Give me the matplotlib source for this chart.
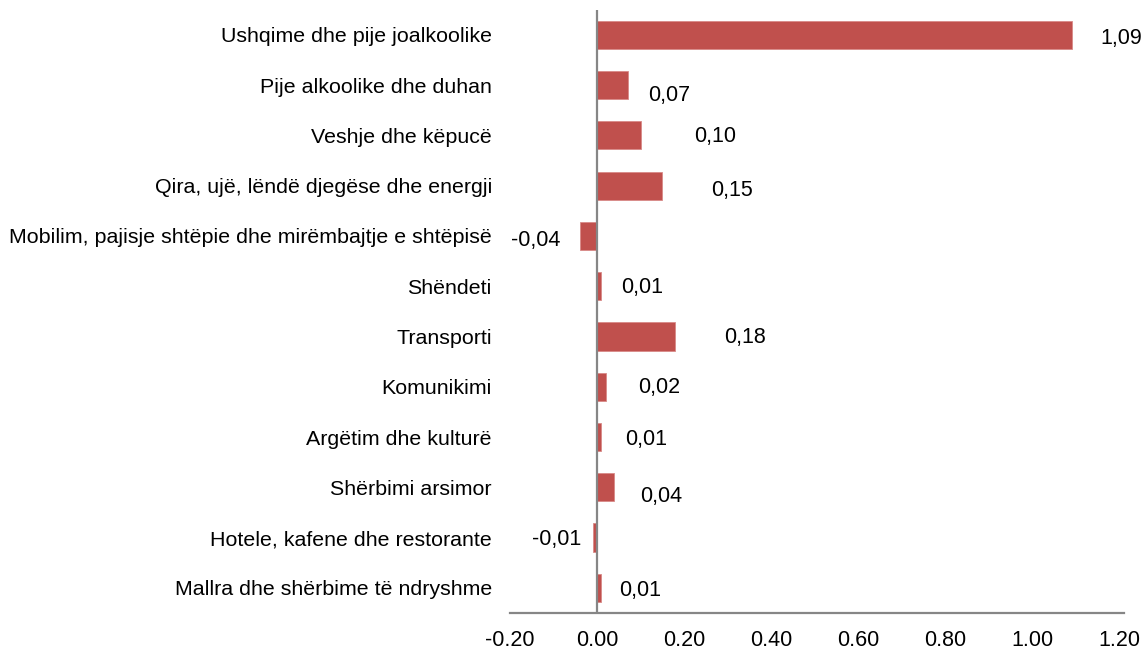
import numpy as np
import matplotlib.pyplot as plt

categories = ["Ushqime dhe pije joalkoolike",
              "Pije alkoolike dhe duhan",
              "Veshje dhe këpucë",
              "Qira, ujë, lëndë djegëse dhe energji",
              "Mobilim, pajisje shtëpie dhe mirëmbajtje e shtëpisë",
              "Shëndeti",
              "Transporti",
              "Komunikimi",
              "Argëtim dhe kulturë",
              "Shërbimi arsimor",
              "Hotele, kafene dhe restorante",
              "Mallra dhe shërbime të ndryshme"]
values = [1.09, 0.07, 0.10, 0.15, -0.04, 0.01, 0.18, 0.02, 0.01, 0.04, -0.01, 0.01]
labels = ["1,09", "0,07", "0,10", "0,15", "-0,04", "0,01",
          "0,18", "0,02", "0,01", "0,04", "-0,01", "0,01"]
# where excel left the data labels (x in data units, y shift in category units)
label_x = [1.203, 0.165, 0.271, 0.310, -0.140, 0.103, 0.340, 0.142, 0.112, 0.147, -0.094, 0.099]
label_dy = [0.08, 0.2, 0.02, 0.1, 0.1, 0.02, 0.02, 0.02, 0.04, 0.18, 0.04, 0.06]
xticks = [-0.2, 0.0, 0.2, 0.4, 0.6, 0.8, 1.0, 1.2]

plt.rcParams['font.family'] = ['Liberation Sans', 'DejaVu Sans']

fig = plt.figure(figsize=(11.46, 6.5), dpi=100)
ax = fig.add_axes([0.445, 0.057, 0.532, 0.928])

y = np.arange(len(categories))
ax.barh(y, values, height=0.56, color='#C0504D', edgecolor='#D88A88', linewidth=0.6, zorder=2)
ax.axvline(0, color='#868686', linewidth=1.6, zorder=3)

for i in range(len(values)):
    ax.text(label_x[i], y[i] + label_dy[i], labels[i], ha='center', va='center', fontsize=15.5)

ax.set_ylim(len(categories) - 0.5, -0.5)
ax.set_xlim(-0.2, 1.2)
ax.set_yticks(y)
ax.set_yticklabels(categories, fontsize=15.4)
ax.set_xticks(xticks)
ax.set_xticklabels(['%.2f' % t for t in xticks], fontsize=15.5)
ax.tick_params(axis='y', length=0, pad=13)
ax.tick_params(axis='x', length=0, pad=12)

for s in ['top', 'right', 'left']:
    ax.spines[s].set_visible(False)
ax.spines['bottom'].set_color('#868686')
ax.spines['bottom'].set_linewidth(1.6)
ax.spines['bottom'].set_bounds(-0.2, 1.21)

fig.savefig('out.png', dpi=100)
